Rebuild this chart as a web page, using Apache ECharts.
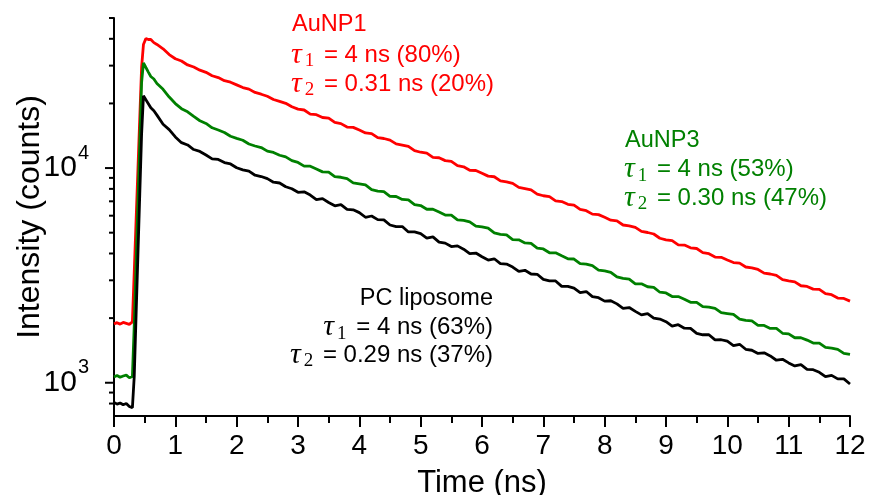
<!DOCTYPE html>
<html><head><meta charset="utf-8">
<script src="https://cdn.jsdelivr.net/npm/echarts@6/dist/echarts.min.js"></script>
<style>html,body{margin:0;padding:0;background:#fff}#c{width:870px;height:495px}</style>
</head><body><div id="c"></div>
<script>
// time axis (ns)
const times = [0,0.05,0.1,0.15,0.2,0.25,0.3,0.33,0.36,0.39,0.42,0.45,0.48,0.52,0.56,0.6,0.65,0.7,
0.8,0.9,1.0,1.1,1.2,1.3,1.4,1.5,1.6,1.7,1.8,1.9,2.0,2.1,2.2,2.3,2.4,2.5,2.6,2.7,2.8,2.9,
3.0,3.1,3.2,3.3,3.4,3.5,3.6,3.7,3.8,3.9,4.0,4.1,4.2,4.3,4.4,4.5,4.6,4.7,4.8,4.9,
5.0,5.1,5.2,5.3,5.4,5.5,5.6,5.7,5.8,5.9,6.0,6.1,6.2,6.3,6.4,6.5,6.6,6.7,6.8,6.9,
7.0,7.1,7.2,7.3,7.4,7.5,7.6,7.7,7.8,7.9,8.0,8.1,8.2,8.3,8.4,8.5,8.6,8.7,8.8,8.9,
9.0,9.1,9.2,9.3,9.4,9.5,9.6,9.7,9.8,9.9,10.0,10.1,10.2,10.3,10.4,10.5,10.6,10.7,10.8,10.9,
11.0,11.1,11.2,11.3,11.4,11.5,11.6,11.7,11.8,11.9,12.0];

const auNP1 = [1880,1905,1875,1910,1890,1870,1920,3280,5680,9840,17100,29500,37600,40100,39700,39740,38400,37640,
35940,33770,32300,31520,30220,29570,28570,27920,26910,26380,25530,25120,24410,23720,23320,22500,22080,21590,20860,20440,20020,19290,
18820,18640,17820,17730,17200,17080,16310,16110,15520,15470,
15030,14570,14480,13850,13730,13490,12960,12800,12610,12050,
11850,11730,11220,11170,10830,10750,10270,10140,9770,9740,
9460,9170,9110,8710,8630,8480,8130,8030,7910,7560,
7430,7360,7030,6980,6780,6720,6420,6330,6100,6070,
5900,5720,5680,5430,5380,5290,5070,5010,4930,4710,
4630,4590,4390,4380,4250,4220,4040,3990,3850,3840,
3730,3630,3610,3460,3430,3370,3240,3210,3160,3020,
2980,2950,2830,2810,2730,2720,2600,2570,2480,2470,
2400];

const auNP3 = [1065,1080,1060,1075,1085,1055,1070,1850,3560,6840,13150,25100,30900,29400,28000,26690,25980,24770,
23260,21410,19970,18910,18280,17390,16610,16140,15400,15040,14640,14060,13760,13470,12940,12670,12460,11990,11820,11470,11270,10830,
10620,10210,10200,9900,9600,9570,9120,9060,8920,8530,
8440,8340,7930,7810,7760,7380,7370,7140,7110,6760,
6690,6430,6430,6240,6040,6030,5740,5710,5620,5370,
5320,5250,4990,4910,4880,4640,4630,4480,4460,4240,
4200,4030,4030,3900,3780,3770,3590,3570,3510,3350,
3320,3270,3110,3060,3040,2890,2890,2800,2780,2640,
2620,2520,2520,2450,2370,2370,2260,2250,2220,2120,
2100,2080,1980,1950,1940,1850,1850,1790,1790,1700,
1690,1620,1620,1580,1530,1530,1460,1450,1430,1370,
1355];

const pcLiposome = [810,795,805,790,800,775,765,1070,2060,3940,7530,14400,21700,20800,19950,19080,18480,17640,
15990,15100,13960,13130,12810,12200,11950,11500,11040,10970,10610,10450,10030,9810,9670,9260,9130,8930,8590,8520,8180,8010,
7710,7750,7490,7130,7200,6910,6670,6760,6420,6390,
6200,5900,5980,5750,5740,5430,5340,5340,5040,5040,
4950,4720,4780,4520,4470,4310,4340,4190,3990,4020,
3860,3730,3780,3590,3570,3460,3300,3340,3210,3200,
3030,2980,2980,2810,2810,2760,2630,2660,2520,2490,
2400,2410,2330,2220,2240,2150,2070,2100,2000,1980,
1925,1836,1863,1795,1793,1699,1673,1674,1584,1586,
1561,1489,1511,1432,1417,1369,1379,1334,1273,1286,
1237,1197,1215,1155,1150,1119,1067,1082,1042,1042,
987];

const yMajorTicks = [1000, 10000];
const yMinorTicks = [800, 900, 2000, 3000, 4000, 5000, 6000, 7000, 8000, 9000, 20000, 30000, 40000, 50000];

const FONT = '"Liberation Sans", Arial, sans-serif';
const RED = '#ff0000', GREEN = '#008000', BLACK = '#000000';

function pairs(arr) { return times.map((t, i) => [t, arr[i]]); }

const tauRich = {
  t: { fontFamily: '"Liberation Serif", serif', fontStyle: 'italic', fontSize: 30, padding: [0, 1, 0, 0] },
  sub: { fontFamily: '"Liberation Serif", serif', fontSize: 19, padding: [13, 3, 0, 2] },
  r: { fontFamily: FONT, fontSize: 24 }
};

function label(x, y, text, color, align) {
  return { type: 'text', x: x, y: y, silent: true, z: 100,
    style: { text: text, fill: color, rich: tauRich, fontFamily: FONT, fontSize: 23.5,
      align: align || 'left', verticalAlign: 'middle' } };
}

const chart = echarts.init(document.getElementById('c'), null, { renderer: 'canvas' });
const tickData = yMajorTicks.map(v => [0, v]).concat(yMinorTicks.map(v => [0, v]));

chart.setOption({
  animation: false,
  backgroundColor: '#ffffff',
  grid: { left: 114, right: 20, top: 18, bottom: 79, containLabel: false, outerBoundsMode: 'none' },
  xAxis: {
    type: 'value', min: 0, max: 12, interval: 1,
    axisLine: { show: true, onZero: false, lineStyle: { color: '#000', width: 2 } },
    axisTick: { show: true, inside: false, length: 11, lineStyle: { color: '#000', width: 2 } },
    minorTick: { show: true, splitNumber: 2, length: 7, lineStyle: { color: '#000', width: 2 } },
    splitLine: { show: false }, minorSplitLine: { show: false },
    axisLabel: { color: '#000', fontSize: 28, fontFamily: FONT, margin: 16 },
    name: 'Time (ns)', nameLocation: 'middle', nameGap: 52, nameMoveOverlap: false,
    nameTextStyle: { color: '#000', fontSize: 31, fontFamily: FONT }
  },
  yAxis: {
    type: 'log', logBase: 10, min: 700, max: 50000,
    axisLine: { show: true, onZero: false, lineStyle: { color: '#000', width: 2 } },
    axisTick: { show: false }, minorTick: { show: false }, splitLine: { show: false },
    axisLabel: {
      margin: 25, color: '#000',
      formatter: function (v) {
        const e = Math.log10(v);
        if (Math.abs(e - Math.round(e)) > 1e-6) return '';
        return '{b|10}{s|' + Math.round(e) + '}';
      },
      rich: {
        b: { fontSize: 30, fontFamily: FONT, color: '#000', verticalAlign: 'bottom', lineHeight: 30 },
        s: { fontSize: 20, fontFamily: FONT, color: '#000', verticalAlign: 'bottom', lineHeight: 20, padding: [0, 0, 20, 1] }
      }
    },
    name: 'Intensity (counts)', nameLocation: 'middle', nameGap: 68, nameRotate: 90, nameMoveOverlap: false,
    nameTextStyle: { color: '#000', fontSize: 32, fontFamily: FONT }
  },
  series: [
    { name: 'AuNP1', type: 'line', data: pairs(auNP1), showSymbol: false, symbol: 'none',
      lineStyle: { color: RED, width: 2.8 }, itemStyle: { color: RED }, z: 2 },
    { name: 'AuNP3', type: 'line', data: pairs(auNP3), showSymbol: false, symbol: 'none',
      lineStyle: { color: GREEN, width: 2.8 }, itemStyle: { color: GREEN }, z: 3 },
    { name: 'PC liposome', type: 'line', data: pairs(pcLiposome), showSymbol: false, symbol: 'none',
      lineStyle: { color: BLACK, width: 2.8 }, itemStyle: { color: BLACK }, z: 4 },
    { type: 'custom', coordinateSystem: 'cartesian2d', clip: false, silent: true, z: 10,
      data: tickData,
      renderItem: function (params, api) {
        const p = api.coord([api.value(0), api.value(1)]);
        const len = params.dataIndex < yMajorTicks.length ? 9 : 5;
        return { type: 'line', shape: { x1: p[0] - len, y1: p[1], x2: p[0], y2: p[1] },
          style: { stroke: '#000', lineWidth: 2 } };
      }
    }
  ],
  graphic: [
    label(292, 25, 'AuNP1', RED),
    label(291, 55, '{t|τ}{sub|1}{r| = 4 ns (80%)}', RED),
    label(291, 84, '{t|τ}{sub|2}{r| = 0.31 ns (20%)}', RED),
    label(625, 140.5, 'AuNP3', GREEN),
    label(624, 169.5, '{t|τ}{sub|1}{r| = 4 ns (53%)}', GREEN),
    label(624, 198, '{t|τ}{sub|2}{r| = 0.30 ns (47%)}', GREEN),
    label(493, 299, 'PC liposome', BLACK, 'right'),
    label(493, 327.5, '{t|τ}{sub|1}{r| = 4 ns (63%)}', BLACK, 'right'),
    label(493, 355, '{t|τ}{sub|2}{r| = 0.29 ns (37%)}', BLACK, 'right')
  ]
});
</script>
</body></html>
